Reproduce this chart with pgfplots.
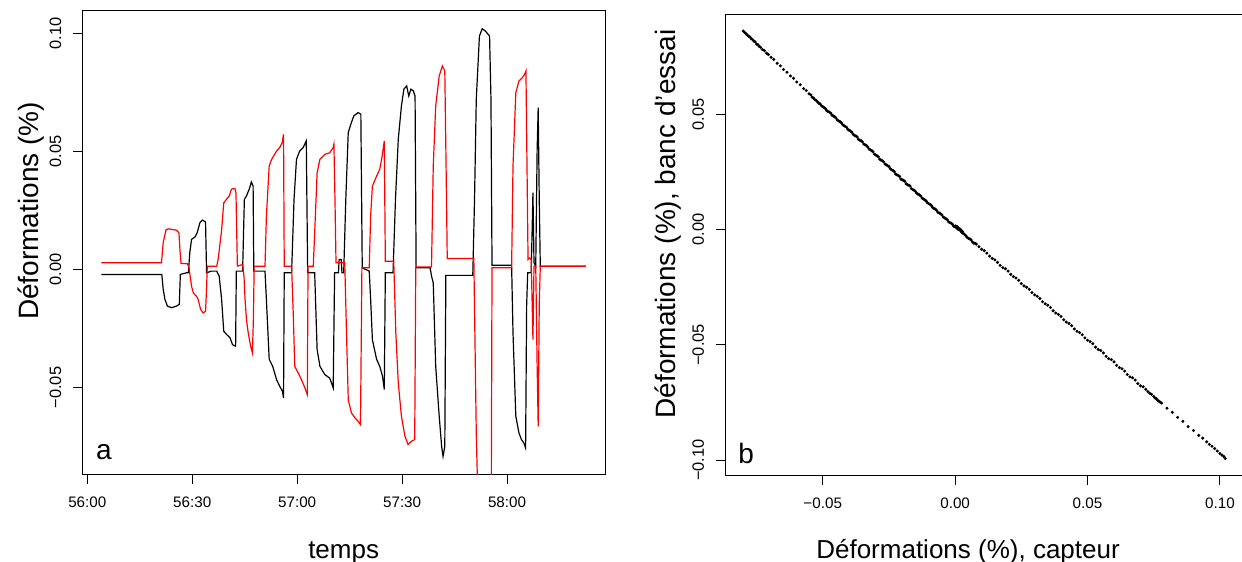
\documentclass[border=0pt]{standalone}
\usepackage{pgfplots}
\pgfplotsset{compat=1.18}
\usepackage{fontspec}
\setmainfont{Liberation Sans}

\pgfplotstableread{
t y
4.0 0.0028
21.2 0.0028
21.7 0.0114
22.5 0.0167
23.2 0.0172
25.5 0.0166
26.2 0.0155
26.5 0.0080
26.8 0.0026
28.6 0.0024
29.05 0.0010
29.8 -0.0071
30.3 -0.0099
31.2 -0.0113
31.7 -0.0127
32.4 -0.0169
33.1 -0.0184
33.8 -0.0177
34.1 -0.0080
34.3 0.0014
37.0 0.0014
37.4 0.0042
38.4 0.0167
39.0 0.0282
39.8 0.0297
40.6 0.0311
41.2 0.0340
42.2 0.0343
42.5 0.0325
42.9 0.0014
44.4 0.0021
44.8 -0.0030
45.1 -0.0127
45.5 -0.0212
46.0 -0.0268
46.7 -0.0325
47.2 -0.0353
47.5 -0.0200
47.7 0.0014
50.8 0.0014
51.2 0.0226
52.0 0.0438
52.7 0.0466
54.1 0.0501
55.0 0.0516
55.7 0.0537
56.1 0.0572
56.3 0.0014
58.4 0.0014
58.9 -0.0198
59.3 -0.0410
60.3 -0.0438
61.2 -0.0466
62.2 -0.0501
62.9 -0.0530
63.1 0.0014
64.6 0.0014
65.0 0.0155
65.7 0.0409
66.5 0.0466
67.9 0.0487
69.3 0.0494
70.3 0.0516
70.5 0.0530
70.8 0.0300
71.1 0.0028
73.6 0.0028
74.1 -0.0269
74.6 -0.0551
75.5 -0.0607
76.5 -0.0628
77.4 -0.0642
78.1 -0.0657
78.5 0.0007
80.6 0.0007
81.0 0.0226
81.5 0.0353
82.7 0.0395
83.6 0.0424
84.3 0.0480
84.9 0.0544
85.2 0.0035
87.6 0.0035
88.2 -0.0269
88.9 -0.0480
89.8 -0.0621
90.8 -0.0706
91.7 -0.0741
92.7 -0.0727
93.6 -0.0720
93.9 0.0010
98.4 0.0010
98.9 0.0438
99.6 0.0692
100.6 0.0819
101.5 0.0861
102.2 0.0840
102.6 0.0400
102.9 0.0046
110.5 0.0046
111.2 -0.0695
111.7 -0.1000
113.1 -0.1400
115.0 -0.1300
115.5 -0.0900
115.7 0.0007
121.3 0.0007
121.7 0.0438
122.5 0.0748
123.4 0.0798
124.4 0.0812
125.0 0.0826
125.4 0.0840
125.7 0.0438
126.0 0.0042
126.5 0.0049
126.9 0.0042
127.4 -0.0297
127.7 0.0014
128.2 0.0014
128.6 -0.0410
128.9 -0.0664
129.2 -0.0150
129.5 0.0014
142.5 0.0014
}\redtable

\pgfplotstableread{
t y
4.0 -0.0021
21.3 -0.0021
21.7 -0.0085
22.2 -0.0127
22.9 -0.0155
24.1 -0.0162
25.5 -0.0155
26.3 -0.0148
26.6 -0.0021
28.4 -0.0014
28.9 -0.0014
29.3 0.0071
29.8 0.0127
30.8 0.0138
31.4 0.0155
32.2 0.0198
32.9 0.0209
33.8 0.0201
34.1 -0.0014
35.5 -0.0007
37.0 -0.0007
37.7 -0.0028
38.4 -0.0127
39.0 -0.0261
39.8 -0.0275
40.8 -0.0289
41.5 -0.0318
42.4 -0.0325
42.6 -0.0007
44.4 -0.0007
44.9 0.0297
45.5 0.0311
46.3 0.0340
46.9 0.0370
47.4 0.0353
47.6 -0.0007
50.8 -0.0007
51.2 -0.0127
52.0 -0.0380
53.0 -0.0410
54.1 -0.0466
55.0 -0.0494
55.8 -0.0516
56.1 -0.0544
56.3 -0.0014
58.4 -0.0014
59.1 0.0297
59.8 0.0466
60.7 0.0501
61.7 0.0516
62.6 0.0544
63.0 -0.0014
65.0 -0.0014
65.7 -0.0339
66.5 -0.0410
67.9 -0.0445
69.3 -0.0460
69.8 -0.0480
70.3 -0.0501
70.7 -0.0014
71.8 -0.0014
72.0 0.0042
72.6 0.0042
72.8 -0.0014
73.3 -0.0014
73.9 0.0297
74.6 0.0580
75.5 0.0622
76.2 0.0650
77.4 0.0664
78.2 0.0657
78.6 0.0007
80.6 -0.0007
81.0 -0.0127
81.5 -0.0297
82.7 -0.0380
83.6 -0.0410
84.4 -0.0452
84.9 -0.0508
85.2 -0.0014
87.4 -0.0014
88.1 0.0297
88.9 0.0551
89.8 0.0692
90.5 0.0763
91.3 0.0777
91.9 0.0734
92.5 0.0763
93.2 0.0756
93.7 0.0734
94.0 0.0007
98.0 0.0007
98.4 -0.0028
98.9 -0.0057
99.6 -0.0410
100.6 -0.0621
101.3 -0.0749
101.7 -0.0791
102.2 -0.0749
102.5 -0.0025
110.2 -0.0025
110.7 0.0297
111.2 0.0720
112.1 0.0988
112.9 0.1019
113.8 0.1009
115.0 0.0988
115.4 0.0720
115.7 0.0018
121.3 0.0018
121.7 -0.0269
122.5 -0.0621
123.4 -0.0692
124.1 -0.0720
124.8 -0.0734
125.3 -0.0756
125.6 -0.0150
125.9 -0.0014
126.9 -0.0014
127.4 0.0325
127.7 0.0028
128.2 0.0014
128.6 0.0508
128.9 0.0685
129.2 0.0300
129.5 0.0014
142.5 0.0014
}\blacktable

\pgfplotstableread{
x y
-0.0800 0.0862
-0.0795 0.0856
-0.0790 0.0851
-0.0785 0.0845
-0.0780 0.0840
-0.0775 0.0836
-0.0770 0.0829
-0.0765 0.0825
-0.0760 0.0818
-0.0755 0.0815
-0.0750 0.0806
-0.0745 0.0803
-0.0740 0.0795
-0.0735 0.0792
-0.0728 0.0782
-0.0720 0.0777
-0.0712 0.0766
-0.0705 0.0760
-0.0695 0.0748
-0.0685 0.0739
-0.0672 0.0722
-0.0660 0.0711
-0.0648 0.0695
-0.0635 0.0683
-0.0622 0.0667
-0.0610 0.0657
-0.0598 0.0641
-0.0585 0.0629
-0.0572 0.0612
-0.0562 0.0604
-0.0552 0.0590
-0.0545 0.0585
-0.0540 0.0575
-0.0535 0.0571
-0.0530 0.0565
-0.0525 0.0561
-0.0520 0.0555
-0.0515 0.0549
-0.0510 0.0546
-0.0505 0.0538
-0.0500 0.0534
-0.0495 0.0530
-0.0490 0.0525
-0.0485 0.0517
-0.0480 0.0513
-0.0475 0.0510
-0.0470 0.0506
-0.0465 0.0497
-0.0460 0.0493
-0.0455 0.0490
-0.0450 0.0485
-0.0445 0.0476
-0.0440 0.0472
-0.0435 0.0469
-0.0430 0.0464
-0.0425 0.0456
-0.0420 0.0452
-0.0415 0.0448
-0.0410 0.0444
-0.0405 0.0435
-0.0400 0.0431
-0.0395 0.0428
-0.0390 0.0423
-0.0385 0.0414
-0.0380 0.0409
-0.0375 0.0407
-0.0370 0.0402
-0.0365 0.0392
-0.0360 0.0388
-0.0355 0.0386
-0.0350 0.0381
-0.0345 0.0372
-0.0340 0.0368
-0.0335 0.0365
-0.0330 0.0359
-0.0325 0.0350
-0.0320 0.0346
-0.0315 0.0343
-0.0310 0.0338
-0.0305 0.0328
-0.0300 0.0324
-0.0295 0.0321
-0.0290 0.0316
-0.0285 0.0306
-0.0280 0.0302
-0.0275 0.0299
-0.0270 0.0294
-0.0265 0.0285
-0.0260 0.0281
-0.0255 0.0278
-0.0250 0.0274
-0.0245 0.0264
-0.0240 0.0260
-0.0235 0.0257
-0.0230 0.0252
-0.0225 0.0242
-0.0220 0.0238
-0.0215 0.0235
-0.0210 0.0231
-0.0205 0.0220
-0.0200 0.0216
-0.0195 0.0214
-0.0190 0.0210
-0.0185 0.0199
-0.0180 0.0195
-0.0175 0.0193
-0.0170 0.0189
-0.0165 0.0178
-0.0160 0.0174
-0.0155 0.0171
-0.0150 0.0166
-0.0145 0.0158
-0.0140 0.0154
-0.0135 0.0151
-0.0130 0.0146
-0.0125 0.0137
-0.0120 0.0133
-0.0115 0.0130
-0.0110 0.0125
-0.0105 0.0117
-0.0100 0.0113
-0.0095 0.0110
-0.0090 0.0105
-0.0085 0.0096
-0.0080 0.0092
-0.0075 0.0089
-0.0070 0.0084
-0.0065 0.0075
-0.0060 0.0072
-0.0055 0.0069
-0.0050 0.0064
-0.0045 0.0055
-0.0040 0.0051
-0.0035 0.0048
-0.0030 0.0043
-0.0025 0.0034
-0.0020 0.0031
-0.0015 0.0028
-0.0010 0.0023
-0.0005 0.0015
0.0000 0.0012
0.0002 0.0016
0.0005 0.0008
0.0008 0.0012
0.0010 0.0003
0.0012 0.0008
0.0015 -0.0001
0.0018 0.0003
0.0020 -0.0004
0.0022 -0.0001
0.0025 -0.0012
0.0028 -0.0008
0.0030 -0.0016
0.0035 -0.0020
0.0040 -0.0026
0.0045 -0.0033
0.0050 -0.0038
0.0055 -0.0040
0.0060 -0.0044
0.0065 -0.0053
0.0070 -0.0058
0.0075 -0.0059
0.0080 -0.0063
0.0090 -0.0074
0.0100 -0.0085
0.0110 -0.0091
0.0120 -0.0102
0.0130 -0.0115
0.0140 -0.0125
0.0150 -0.0131
0.0160 -0.0142
0.0170 -0.0155
0.0180 -0.0165
0.0190 -0.0170
0.0200 -0.0180
0.0210 -0.0194
0.0220 -0.0204
0.0230 -0.0210
0.0240 -0.0220
0.0250 -0.0234
0.0260 -0.0244
0.0270 -0.0250
0.0280 -0.0259
0.0290 -0.0273
0.0300 -0.0283
0.0310 -0.0289
0.0320 -0.0299
0.0330 -0.0313
0.0340 -0.0322
0.0350 -0.0328
0.0360 -0.0338
0.0370 -0.0352
0.0380 -0.0362
0.0390 -0.0368
0.0400 -0.0377
0.0410 -0.0391
0.0420 -0.0401
0.0430 -0.0407
0.0440 -0.0417
0.0450 -0.0431
0.0460 -0.0441
0.0470 -0.0447
0.0480 -0.0456
0.0490 -0.0470
0.0500 -0.0480
0.0510 -0.0486
0.0520 -0.0495
0.0530 -0.0510
0.0540 -0.0520
0.0550 -0.0525
0.0560 -0.0535
0.0570 -0.0550
0.0580 -0.0560
0.0590 -0.0564
0.0600 -0.0574
0.0610 -0.0589
0.0620 -0.0599
0.0630 -0.0604
0.0640 -0.0614
0.0650 -0.0629
0.0660 -0.0639
0.0670 -0.0643
0.0680 -0.0653
0.0690 -0.0668
0.0700 -0.0678
0.0710 -0.0682
0.0720 -0.0693
0.0728 -0.0703
0.0735 -0.0710
0.0742 -0.0715
0.0750 -0.0724
0.0755 -0.0731
0.0760 -0.0734
0.0765 -0.0741
0.0770 -0.0745
0.0775 -0.0749
0.0780 -0.0753
0.0800 -0.0775
0.0820 -0.0793
0.0840 -0.0815
0.0860 -0.0832
0.0880 -0.0855
0.0900 -0.0872
0.0920 -0.0893
0.0935 -0.0905
0.0950 -0.0921
0.0960 -0.0932
0.0970 -0.0940
0.0980 -0.0950
0.0990 -0.0961
0.1000 -0.0972
0.1008 -0.0979
0.1015 -0.0985
0.1020 -0.0993
}\scattertable

\begin{document}
\begin{tikzpicture}
\useasboundingbox (0,0) rectangle (621pt,281pt);
\pgfplotsset{
  rstyle/.style={
    scale only axis,
    axis line style={line width=0.5pt, black},
    tick style={line width=0.5pt, black},
    tick align=outside,
    major tick length=4.5pt,
    tick pos=left,
    xticklabel style={font=\fontsize{7.6}{9}\selectfont},
    yticklabel style={font=\fontsize{8.2}{10}\selectfont, rotate=90, anchor=south},
    xticklabel shift=3pt,
    yticklabel shift=2.5pt,
    label style={font=\fontsize{13}{15}\selectfont},
    ylabel style={font=\fontsize{14}{16}\selectfont},
  }
}
% Left panel
\begin{axis}[rstyle,
  at={(41.15pt,43.5pt)}, anchor=south west,
  width=261.35pt, height=232pt,
  xmin=-1.43, xmax=148, ymin=-0.087, ymax=0.1094,
  xtick={0,30,60,90,120},
  xticklabels={56:00,56:30,57:00,57:30,58:00},
  ytick={-0.05,0,0.05,0.1},
  yticklabels={−0.05,0.00,0.05,0.10},
  xlabel={temps},
  xlabel style={at={(axis description cs:0.5,-0.179)}, anchor=base},
  ylabel={Déformations (\%)},
  ylabel style={at={(axis description cs:-0.0829,0.569)}, anchor=base},
]
\addplot[black, line width=0.6pt] table[x=t,y=y] {\blacktable};
\addplot[red, line width=0.6pt] table[x=t,y=y] {\redtable};
\node[font=\fontsize{14}{16}\selectfont, anchor=base] at (axis cs:4.77,-0.0805) {a};
\end{axis}
% Right panel
\begin{axis}[rstyle,
  at={(362.5pt,43.15pt)}, anchor=south west,
  width=259.65pt, height=230.5pt,
  xmin=-0.0869, xmax=0.1092, ymin=-0.1068, ymax=0.0933,
  xtick={-0.05,0,0.05,0.1},
  xticklabels={−0.05,0.00,0.05,0.10},
  ytick={-0.1,-0.05,0,0.05},
  yticklabels={−0.10,−0.05,0.00,0.05},
  xlabel={Déformations (\%), capteur},
  xlabel style={at={(axis description cs:0.468,-0.179)}, anchor=base},
  ylabel={Déformations (\%), banc d'essai},
  ylabel style={at={(axis description cs:-0.0944,0.546)}, anchor=base},
]
\addplot[only marks, mark=*, mark size=0.55pt, black] table[x=x,y=y] {\scattertable};
\node[font=\fontsize{14}{16}\selectfont, anchor=base] at (axis cs:-0.0789,-0.1017) {b};
\end{axis}
\end{tikzpicture}
\end{document}
